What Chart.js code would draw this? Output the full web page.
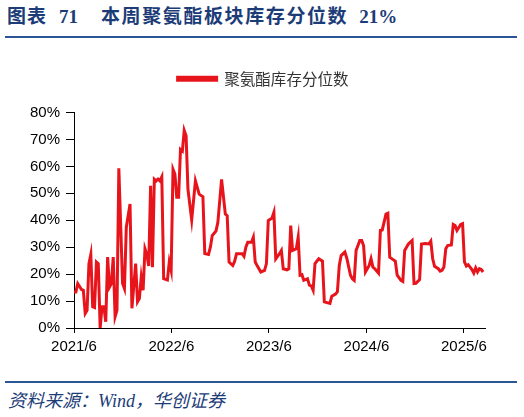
<!DOCTYPE html>
<html>
<head>
<meta charset="utf-8">
<script src="https://cdn.jsdelivr.net/npm/chart.js@4.4.0/dist/chart.umd.min.js"></script>
<style>
  body { margin: 0; background: #fff; }
  #wrap { position: relative; width: 524px; height: 417px; overflow: hidden; }
  #title { position: absolute; left: 7px; top: 7px; font-family: "Liberation Serif", "Noto Sans CJK SC", serif;
           font-weight: bold; font-size: 19px; line-height: 19px; color: #1c3c78; white-space: nowrap; }
  .rule { position: absolute; left: 5px; width: 512px; height: 2px; background: #2b5597; }
  #source { position: absolute; left: 8px; top: 392px; font-family: "Liberation Serif", "Noto Sans CJK SC", serif;
            font-style: italic; font-size: 18px; line-height: 19px; color: #1c3c78; white-space: nowrap; }
  #box { position: absolute; left: 0; top: 55px; width: 524px; height: 310px; }
</style>
</head>
<body>
<div id="wrap">
  <div id="title"><span style="letter-spacing:1px">图表</span><span style="margin-left:12px">71</span><span style="margin-left:23px;letter-spacing:1.6px">本周聚氨酯板块库存分位数</span><span style="margin-left:11px">21%</span></div>
  <div class="rule" style="top:36px"></div>
  <div id="box"><canvas id="chart"></canvas></div>
  <div class="rule" style="top:381px"></div>
  <div id="source">资料来源：Wind，华创证券</div>
</div>
<script>
'use strict'

// weeks since 2021/6/1
var weeks = [0,1,2,4,5,6,7,8,9,10,11,12,13,14,15,16,17,18,19,20,21,22,23,24,26,27,28,30,31,33,
  34,35,36,37,38,39,40,41,42,43,44,45,46,47,48,50,51,52,53,54,55,56,57,58,59,60,61,63,65,67,
  69,70,72,73,74,76,77,79,81,82,83,85,86,87,90,91,92,93,95,96,97,98,100,102,103,104,106,107,108,110,
  111,112,114,115,116,117,119,120,121,122,123,125,126,127,128,129,131,133,134,137,138,140,141,142,143,145,146,148,149,150,
  151,153,154,155,156,158,159,160,161,163,164,165,167,168,169,171,172,173,175,176,177,178,179,181,182,183,185,186,188,190,
  191,192,193,195,196,197,198,199,200,202,203,204,205,207,208,209,210,211,212,213,214,215,216,217,218,219]

// 聚氨酯库存分位数, %
var inventoryPct = [13.4,13.4,16.5,14.3,14.0,5.4,6.6,23.9,27.3,7.9,7.6,24.5,23.9,0,7.9,7.9,2.3,26.3,15.2,16.5,26.3,4.2,6.6,59.3,16.5,14.6,37.4,46.0,7.3,23.9,
  9.7,10.9,18.9,14.0,29.4,27.3,23.0,52.8,22.6,55.2,54.6,55.3,54.6,56.1,18.3,17.8,24.5,21.4,58.9,57.1,48.5,48.5,66.3,65.7,73.4,71.4,51.5,40.1,54.6,49.7,
  48.7,27.6,27.3,30.0,34.3,36.0,39.2,55.2,42.3,41.7,24.5,23.2,24.8,27.6,27.6,26.6,30.0,31.8,31.8,33.7,24.5,23.2,20.8,21.4,23.9,39.9,40.8,42.9,25.7,27.6,
  28.8,22.0,21.6,22.0,38.0,28.8,29.4,33.7,19.6,19.8,17.7,18.3,15.9,15.6,14.0,23.9,25.7,24.8,9.7,9.1,11.8,12.6,13.5,23.2,26.9,28.2,26.0,19.6,18.3,17.7,
  28.8,32.5,32.5,30.6,20.8,23.2,25.7,22.6,22.0,20.4,36.2,36.4,42.3,42.6,26.3,25.3,24.8,19.6,17.7,17.3,28.8,30.0,31.2,32.5,16.5,16.6,18.0,31.2,31.4,31.2,
  32.2,25.7,22.9,22.0,21.1,21.4,22.6,29.4,30.6,30.8,38.4,38.0,36.2,38.4,38.7,24.5,23.0,23.5,22.6,21.7,20.4,22.3,20.8,22.0,21.7,20.8]

var tickWeeks = [0, 52.14, 104.29, 156.57, 208.71]
var tickLabels = ['2021/6', '2022/6', '2023/6', '2024/6', '2025/6']
var seriesName = '聚氨酯库存分位数'

var points = []
for (var i = 0; i < weeks.length; i++) {
    points.push({x: weeks[i], y: inventoryPct[i]})
}

var axisFont = {family: '"Liberation Sans", Arial, sans-serif', size: 15}

// extra room between the legend and the plot, and legend centred a bit further right
var legendTweak = {
    id: 'legendTweak',
    beforeLayout: function (chart) {
        var legend = chart.legend
        if (!legend || legend._gapDone) return
        var fit = legend.fit
        legend.fit = function () {
            fit.call(this)
            this.height += 16
        }
        legend._gapDone = true
    },
    afterLayout: function (chart) {
        if (chart.legend) chart.legend.left += 41
    }
}

var ctx = document.getElementById('chart')
new Chart(ctx, {
    type: 'line',
    data: {
        datasets: [{
            label: seriesName,
            data: points,
            borderColor: '#e8141c',
            backgroundColor: '#e8141c',
            borderWidth: 3,
            pointRadius: 0,
            tension: 0
        }]
    },
    plugins: [legendTweak],
    options: {
        responsive: true,
        maintainAspectRatio: false,
        animation: false,
        layout: {padding: {left: 0, right: 39, top: 6, bottom: 0}},
        plugins: {
            legend: {
                position: 'top',
                labels: {
                    boxWidth: 39,
                    boxHeight: 3,
                    padding: 10,
                    color: '#333',
                    font: {family: '"Noto Sans CJK SC", sans-serif', size: 15.5}
                }
            },
            tooltip: {enabled: false}
        },
        scales: {
            x: {
                type: 'linear',
                min: 0,
                max: 220,
                afterBuildTicks: function (scale) {
                    scale.ticks = tickWeeks.map(function (v) { return {value: v} })
                },
                afterFit: function (scale) { scale.height = 37 },
                ticks: {
                    autoSkip: false,
                    maxRotation: 0,
                    color: '#000',
                    font: axisFont,
                    padding: 5,
                    callback: function (value, index) { return tickLabels[index] }
                },
                grid: {drawOnChartArea: false, drawTicks: true, tickLength: 5, color: '#000'},
                border: {color: '#000', width: 1}
            },
            y: {
                min: 0,
                max: 80,
                afterFit: function (scale) { scale.width = 74 },
                ticks: {
                    stepSize: 10,
                    color: '#000',
                    font: axisFont,
                    padding: 6,
                    callback: function (value) { return value + '%' }
                },
                grid: {drawOnChartArea: false, drawTicks: true, tickLength: 8, color: '#000'},
                border: {color: '#000', width: 1}
            }
        }
    }
})
</script>
</body>
</html>
